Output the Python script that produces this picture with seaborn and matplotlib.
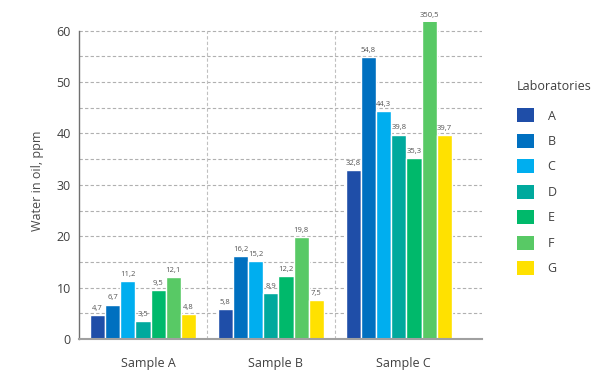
import matplotlib
matplotlib.use("Agg")
import matplotlib.pyplot as plt
import matplotlib.transforms as mtransforms
import seaborn as sns
import pandas as pd
from matplotlib.patches import Patch

samples = ["Sample A", "Sample B", "Sample C"]
labs = ["A", "B", "C", "D", "E", "F", "G"]
sample_a = [4.7, 6.7, 11.2, 3.5, 9.5, 12.1, 4.8]
sample_b = [5.8, 16.2, 15.2, 8.9, 12.2, 19.8, 7.5]
sample_c = [32.8, 54.8, 44.3, 39.8, 35.3, 350.5, 39.7]
colors = ["#1f4ea8", "#0070c0", "#00aeef", "#00a99d", "#00b96b", "#58c965", "#ffe100"]

rows = []
for s, vals in zip(samples, [sample_a, sample_b, sample_c]):
    for l, v in zip(labs, vals):
        rows.append({"Sample": s, "Lab": l, "Value": v})
df = pd.DataFrame(rows)

sns.set_style("white")
plt.rcParams["font.family"] = ["Open Sans", "DejaVu Sans"]

fig = plt.figure(figsize=(6.14, 3.83), dpi=100)
ax = fig.add_axes([79/614, 1-339/383, (482-79)/614, (339-22)/383])

YTOP = 61.7
sns.barplot(data=df, x="Sample", y="Value", hue="Lab", order=samples, hue_order=labs,
            palette=colors, width=0.83, saturation=1, ax=ax, legend=False, errorbar=None)
ax.set_ylim(0, YTOP)
ax.set_xlim(-0.5, 2.65)

# value labels
for cont, lab in zip(ax.containers, labs):
    for bar, v in zip(cont, df[df.Lab == lab]["Value"]):
        h = min(v, YTOP)
        ax.text(bar.get_x() + bar.get_width()/2, h + 0.6, f"{v:.1f}".replace(".", ","),
                ha="center", va="bottom", fontsize=5.5, color="#555555", clip_on=False)

# grid
ax.set_yticks(range(0, 61, 10))
for y in range(5, 61, 5):
    ax.axhline(y, color="#b0b0b0", lw=0.8, ls=(0, (3, 2)), zorder=0)
ax.vlines([0.5, 1.5], 0, 60, color="#c0c0c0", lw=0.8, ls=(0, (3, 2)), zorder=0)
ax.set_axisbelow(True)

for s in ["top", "right"]:
    ax.spines[s].set_visible(False)
ax.spines["left"].set_color("#707070")
ax.spines["left"].set_linewidth(1.0)
ax.spines["bottom"].set_color("#a0a0a0")
ax.spines["bottom"].set_linewidth(1.5)
ax.spines["left"].set_bounds(0, 60)

ax.tick_params(axis="y", length=0, pad=6, labelsize=9, labelcolor="#404040")
ax.tick_params(axis="x", length=0, pad=13, labelsize=9, labelcolor="#404040")
offset = mtransforms.ScaledTranslation(5/100, 0, fig.dpi_scale_trans)
for t in ax.get_xticklabels():
    t.set_transform(t.get_transform() + offset)

ax.set_xlabel("")
ax.set_ylabel("Water in oil, ppm", fontsize=9, color="#4a4a4a", labelpad=9)

handles = [Patch(facecolor=c, edgecolor="none") for c in colors]
leg = fig.legend(handles, labs, loc="upper left", bbox_to_anchor=(517/614, 1-80/383),
                 frameon=False, title="Laboratories", fontsize=9, title_fontsize=9,
                 handlelength=1.36, handleheight=1.36, labelspacing=0.9,
                 handletextpad=1.1, alignment="left", borderaxespad=0, borderpad=0)
leg._legend_box.sep = 11
for t in leg.get_texts():
    t.set_color("#404040")
leg.get_title().set_color("#404040")

fig.savefig("out.png", dpi=100)
